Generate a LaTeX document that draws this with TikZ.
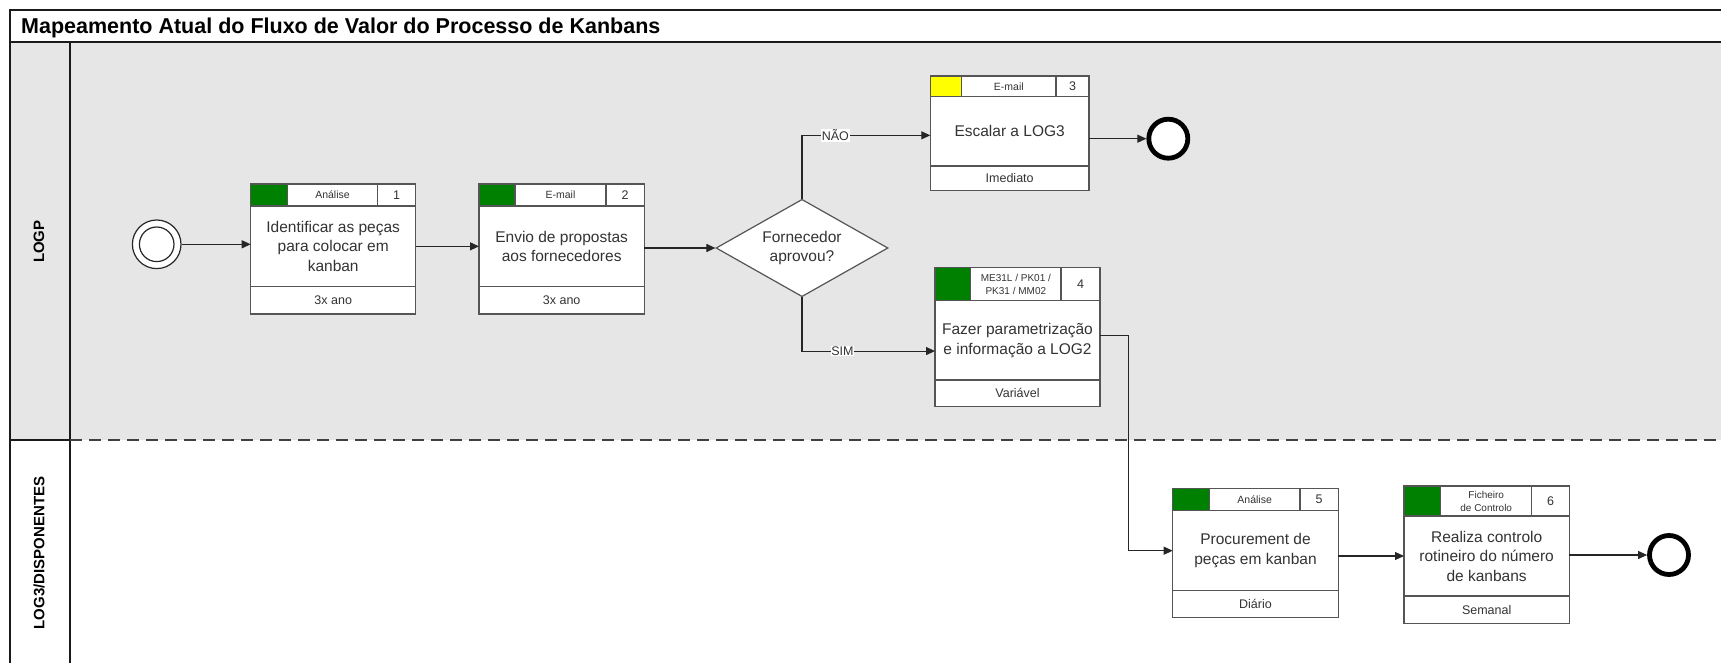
\documentclass[tikz,border=0pt]{standalone}
\usepackage{fontspec}
\setmainfont{Liberation Sans}
\usetikzlibrary{arrows.meta,shapes.geometric}

\definecolor{lanegray}{HTML}{E6E6E6}
\definecolor{okgreen}{HTML}{008000}
\definecolor{warnyellow}{HTML}{FFFF00}
\definecolor{boxline}{HTML}{555555}
\definecolor{ink}{HTML}{333333}
\definecolor{frameink}{HTML}{1A1A1A}

% font sizes
\newcommand\ttlfont{\fontsize{21.5pt}{24pt}\bfseries\selectfont}
\newcommand\lnfont{\fontsize{15pt}{17pt}\bfseries\selectfont}
\newcommand\bxfont{\fontsize{15.5pt}{19.5pt}\selectfont}
\newcommand\hdfont{\fontsize{10.5pt}{13pt}\selectfont}
\newcommand\hdsmallfont{\fontsize{10pt}{13pt}\selectfont}
\newcommand\nmfont{\fontsize{12.5pt}{14pt}\selectfont}
\newcommand\ftfont{\fontsize{12.5pt}{14pt}\selectfont}
\newcommand\lblfont{\fontsize{12.5pt}{14pt}\selectfont}

% geometry of the next process box: x, y (top left), width,
% header height, body height, footer height, tag width, number width
\newcommand\boxgeom[8]{\def\bx{#1}\def\by{#2}\def\bw{#3}\def\bhh{#4}%
  \def\bbh{#5}\def\bfh{#6}\def\bcw{#7}\def\bnw{#8}}

% process box: name, tag colour, tool, number, activity, frequency
\newcommand\procbox[6]{%
  \node[cell, fill=#2, minimum width=\bcw, minimum height=\bhh] (#1-tag) at (\bx,\by) {};
  \node[cell, minimum width=\bw-\bcw-\bnw, minimum height=\bhh, font=\hdfont] (#1-tool) at (#1-tag.north east) {#3};
  \node[cell, minimum width=\bnw, minimum height=\bhh, font=\nmfont] (#1-num) at (#1-tool.north east) {#4};
  \node[cell, minimum width=\bw, minimum height=\bbh, font=\bxfont] (#1) at (#1-tag.south west) {#5};
  \node[cell, minimum width=\bw, minimum height=\bfh, font=\ftfont] (#1-freq) at (#1.south west) {#6};
}

\tikzset{
  cell/.style={draw=boxline, line width=1.2pt, fill=white, inner sep=0pt, outer sep=0pt,
    anchor=north west, align=center, text=ink},
  flow/.style={draw=black!85, line width=1.1pt, -{Triangle[length=9pt,width=8pt]}},
  frameline/.style={draw=frameink, line width=2.5pt},
  colline/.style={draw=frameink, line width=2pt},
  lanesplit/.style={draw=black!75, line width=2pt, dash pattern=on 12pt off 7pt},
  endevent/.style={circle, draw=black, line width=4.8pt, fill=white, minimum size=39pt, inner sep=0pt},
  startevent/.style={circle, draw=black!85, line width=1.2pt, fill=white, inner sep=0pt},
  flowlabel/.style={fill=white, inner sep=0.8pt, font=\lblfont, text=ink},
}

\begin{document}
\begin{tikzpicture}[x=1pt,y=-1pt]
\useasboundingbox (0,0) rectangle (1721,663);
\fill[white] (0,0) rectangle (1721,663);

% pool frame and lanes
\fill[lanegray] (10,42) rectangle (1721,440);
\draw[frameline] (1721,10) -- (10,10) -- (10,663);
\draw[frameline] (10,42) -- (1721,42);
\draw[colline] (70,42) -- (70,663);
\draw[colline] (10,440) -- (70,440);
\draw[lanesplit] (70,440) -- (1721,440);

\node[anchor=base west, font=\ttlfont, text=black, inner sep=0pt] (title) at (21,33.3)
  {Mapeamento Atual do Fluxo de Valor do Processo de Kanbans};
\node[rotate=90, font=\lnfont, text=black] (laneA) at (39,241.7) {LOGP};
\node[rotate=90, font=\lnfont, text=black] (laneB) at (39,553) {LOG3/DISPONENTES};

% events
\node[startevent, minimum size=48.6pt] (start) at (156.7,244.3) {};
\node[startevent, minimum size=34.6pt] (start-in) at (start) {};
\node[endevent] (end1) at (1168.3,138.7) {};
\node[endevent] (end2) at (1669,555) {};

% activities
\boxgeom{250.7}{184}{165}{22}{80.7}{27.3}{36.6}{38}
\procbox{b1}{okgreen}{Análise}{1}{Identificar as peças\\para colocar em\\kanban}{3x ano}
\boxgeom{479}{184}{165.3}{22}{80.7}{27.3}{36}{38.3}
\procbox{b2}{okgreen}{E-mail}{2}{Envio de propostas\\aos fornecedores}{3x ano}
\boxgeom{930.3}{76}{158.7}{20.7}{69.3}{24.7}{31.4}{33}
\procbox{b3}{warnyellow}{E-mail}{3}{Escalar a LOG3}{Imediato}
\boxgeom{935}{267.3}{165}{33.4}{79.3}{26.7}{35.7}{39}
\procbox{b4}{okgreen}{\hdsmallfont ME31L / PK01 /\\\hdsmallfont PK31 / MM02}{4}{Fazer parametrização\\e informação a LOG2}{Variável}
\boxgeom{1172.7}{488.3}{165.6}{22.4}{80}{26.6}{36.6}{38.3}
\procbox{b5}{okgreen}{Análise}{5}{Procurement de\\peças em kanban}{Diário}
\boxgeom{1404}{486}{165.3}{30}{80}{27.3}{36.7}{37.6}
\procbox{b6}{okgreen}{\hdsmallfont Ficheiro\\\hdsmallfont de Controlo}{6}{Realiza controlo\\rotineiro do número\\de kanbans}{Semanal}

% decision
\node[diamond, draw=boxline, line width=1.2pt, fill=white, inner sep=0pt, aspect=1.766,
  minimum width=172pt, minimum height=97.4pt, align=center, font=\bxfont, text=ink]
  (dec) at (802,248) {Fornecedor\\aprovou?};

% sequence flows
\draw[flow] (start) -- (start -| b1.west);
\draw[flow] (b1.east) -- (b2.west);
\draw[flow] (dec.west -| b2.east) -- (dec.west);
\draw[flow] (dec.north) |- node[flowlabel, pos=0.63] (lblno) {NÃO} ([yshift=-4pt]b3.west);
\draw[flow] (dec.south) |- node[flowlabel, pos=0.652] (lblyes) {SIM} ([yshift=-10.7pt]b4.west);
\draw[flow] (end1 -| b3.east) -- (end1);
\draw[flow] ([yshift=5.3pt]b4.east) -- ++(28.3,0) |- (b5.west);
\draw[flow] (b6.west -| b5.east) -- (b6.west);
\draw[flow] (end2 -| b6.east) -- (end2);
\end{tikzpicture}
\end{document}
